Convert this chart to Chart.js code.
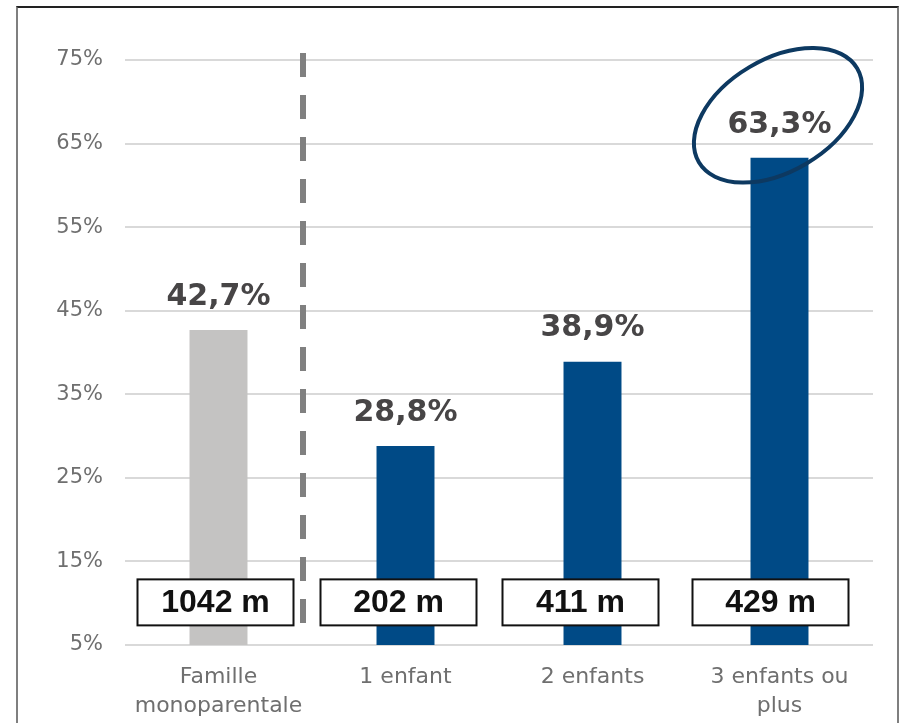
<!DOCTYPE html>
<html>
<head>
<meta charset="utf-8">
<script src="https://cdn.jsdelivr.net/npm/chart.js@4/dist/chart.umd.min.js"></script>
<style>
  body { margin: 0; background: #fff; }
  .wrap { position: relative; width: 903px; height: 723px; overflow: hidden; }
  .frame {
    position: absolute; left: 16px; top: 6px; width: 879px; height: 740px;
    border-left: 2px solid #7f7f7f; border-right: 2px solid #7f7f7f; border-top: 2px solid #222;
  }
  canvas { position: absolute; left: 0; top: 0; }
</style>
</head>
<body>
<div class="wrap">
  <div class="frame"></div>
  <canvas id="chart" width="903" height="723"></canvas>
</div>
<script>
const categories = [["Famille", "monoparentale"], "1 enfant", "2 enfants", ["3 enfants ou", "plus"]];
const values = [42.7, 28.8, 38.9, 63.3];
const counts = ["1042 m", "202 m", "411 m", "429 m"];
const barColors = ["#c4c3c2", "#004a86", "#004a86", "#004a86"];
const yTicks = [5, 15, 25, 35, 45, 55, 65, 75];

const fmt = v => v.toFixed(1).replace(".", ",") + "%";
// boxes are not exactly centred on the bars in the original
const boxShift = [-3, -7, -12, -9];

const overlay = {
  id: "overlay",
  afterDatasetsDraw(chart) {
    const {ctx, chartArea, scales: {y}} = chart;
    const bars = chart.getDatasetMeta(0).data;
    ctx.save();

    // separator between single parent and the others
    const xd = (bars[0].x + bars[1].x) / 2 - 9;
    ctx.strokeStyle = "#808080";
    ctx.lineWidth = 6;
    ctx.setLineDash([24, 18]);
    ctx.beginPath();
    ctx.moveTo(xd, chartArea.top - 7);
    ctx.lineTo(xd, chartArea.bottom - 13);
    ctx.stroke();
    ctx.setLineDash([]);

    // percentages above the bars
    ctx.fillStyle = "#474546";
    ctx.font = "bold 30px 'DejaVu Sans'";
    ctx.textAlign = "center";
    ctx.textBaseline = "middle";
    bars.forEach((b, i) => ctx.fillText(fmt(values[i]), b.x, b.y - 33));

    // boxed counts near the bottom
    const by = y.getPixelForValue(10.1);
    ctx.font = "bold 32px 'Liberation Sans'";
    bars.forEach((b, i) => {
      const bx = b.x + boxShift[i];
      ctx.fillStyle = "#fff";
      ctx.fillRect(bx - 78, by - 23, 156, 46);
      ctx.strokeStyle = "#111";
      ctx.lineWidth = 2;
      ctx.strokeRect(bx - 78, by - 23, 156, 46);
      ctx.fillStyle = "#111";
      ctx.fillText(counts[i], bx, by + 1);
    });

    // highlight ring around the largest value
    const last = bars[bars.length - 1];
    ctx.strokeStyle = "#0d3961";
    ctx.lineWidth = 4;
    ctx.beginPath();
    ctx.ellipse(last.x - 1.5, last.y - 42.5, 92, 56, -30.7 * Math.PI / 180, 0, Math.PI * 2);
    ctx.stroke();
    ctx.restore();
  }
};

new Chart(document.getElementById("chart"), {
  type: "bar",
  data: {
    labels: categories,
    datasets: [{
      data: values,
      backgroundColor: barColors,
      categoryPercentage: 1,
      barPercentage: 0.31
    }]
  },
  options: {
    responsive: false,
    animation: false,
    events: [],
    layout: {padding: {top: 60, right: 30, left: 0, bottom: 0}},
    plugins: {legend: {display: false}, tooltip: {enabled: false}},
    scales: {
      y: {
        min: 5,
        max: 75,
        afterBuildTicks: axis => { axis.ticks = yTicks.map(v => ({value: v})); },
        afterFit: axis => { axis.width = 125; },
        border: {display: false},
        grid: {color: "#d9d9d9", lineWidth: 2, drawTicks: false},
        ticks: {
          padding: 22,
          color: "#6f6f6f",
          font: {family: "DejaVu Sans", size: 21},
          callback: v => v + "%"
        }
      },
      x: {
        afterFit: axis => { axis.height = 78; },
        border: {display: false},
        grid: {display: false, drawTicks: false},
        ticks: {
          padding: 18,
          color: "#6f6f6f",
          maxRotation: 0,
          font: {family: "DejaVu Sans", size: 22, lineHeight: 1.3}
        }
      }
    }
  },
  plugins: [overlay]
});
</script>
</body>
</html>
